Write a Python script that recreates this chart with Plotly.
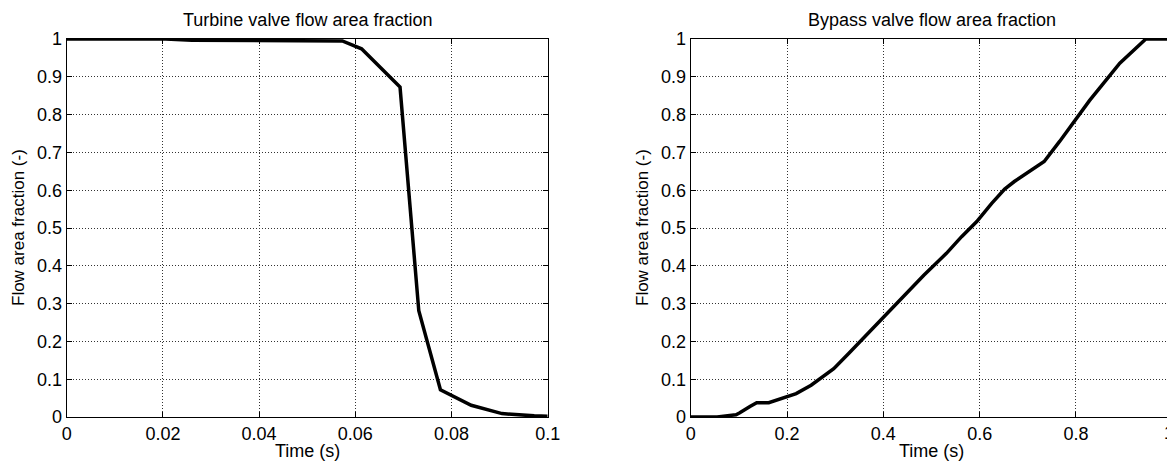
import plotly.graph_objects as go

# Turbine valve flow area fraction
turbine_t = [0.0, 0.0206, 0.026, 0.045, 0.0573, 0.0613, 0.0693, 0.0732, 0.0777, 0.0841, 0.0905, 0.0972, 0.1]
turbine_frac = [1.0, 1.0, 0.997, 0.996, 0.9947, 0.974, 0.873, 0.281, 0.072, 0.031, 0.009, 0.003, 0.002]

# Bypass valve flow area fraction
bypass_t = [0.0, 0.055, 0.094, 0.102, 0.123, 0.137, 0.162, 0.195, 0.219, 0.25, 0.297, 0.328,
            0.375, 0.43, 0.484, 0.531, 0.5625, 0.594, 0.625, 0.652, 0.672, 0.734, 0.766,
            0.828, 0.891, 0.945, 1.0]
bypass_frac = [0.0, 0.0, 0.006, 0.011, 0.028, 0.038, 0.038, 0.051, 0.062, 0.084, 0.128, 0.168,
               0.230, 0.305, 0.375, 0.433, 0.477, 0.517, 0.565, 0.603, 0.623, 0.676, 0.729,
               0.837, 0.936, 1.0, 1.0]

titles = ["Turbine valve flow area fraction", "Bypass valve flow area fraction"]
x_label = "Time (s)"
y_label = "Flow area fraction (-)"
y_ticks = [0, 0.1, 0.2, 0.3, 0.4, 0.5, 0.6, 0.7, 0.8, 0.9, 1]
y_ticktext = ["0", "0.1", "0.2", "0.3", "0.4", "0.5", "0.6", "0.7", "0.8", "0.9", "1"]
x1_ticks = [0, 0.02, 0.04, 0.06, 0.08, 0.1]
x1_ticktext = ["0", "0.02", "0.04", "0.06", "0.08", "0.1"]
x2_ticks = [0, 0.2, 0.4, 0.6, 0.8, 1]
x2_ticktext = ["0", "0.2", "0.4", "0.6", "0.8", "1"]

# The page body has a default 8px margin; lay the figure out in page pixels minus that offset.
OFF = 8
W, H = 1175 - OFF, 466 - OFF
FONT = "Liberation Sans, Arial, sans-serif"
FS = 18


def px_x(p):
    return (p - OFF) / W


def px_y(p):
    return 1 - (p - OFF) / H


dom1 = [px_x(66.7), px_x(547.7)]
dom2 = [px_x(690.7), px_x(1172.3)]
ydom = [px_y(417), px_y(39)]

fig = go.Figure()
fig.add_trace(go.Scatter(x=turbine_t, y=turbine_frac, mode="lines",
                         line=dict(color="black", width=3.5), xaxis="x", yaxis="y",
                         showlegend=False))
fig.add_trace(go.Scatter(x=bypass_t, y=bypass_frac, mode="lines",
                         line=dict(color="black", width=3.5), xaxis="x2", yaxis="y2",
                         showlegend=False))

axis_common = dict(
    showline=True, linecolor="black", linewidth=1, mirror="allticks",
    ticks="inside", ticklen=5, tickcolor="black", tickwidth=1,
    showgrid=True, gridcolor="#333333", gridwidth=1, griddash="1px,2px",
    zeroline=False, tickfont=dict(family=FONT, size=FS, color="black"),
    automargin=False, ticklabeloverflow="allow",
)

# last label of the right x axis sits on the window edge; draw it right-aligned so it stays whole
x2_labels_drawn = x2_ticktext[:-1] + [""]

fig.update_layout(
    width=W, height=H,
    margin=dict(l=0, r=0, t=0, b=0),
    paper_bgcolor="white", plot_bgcolor="white",
    font=dict(family=FONT, size=FS, color="black"),
    xaxis=dict(domain=dom1, range=[0, 0.1], tickvals=x1_ticks, ticktext=x1_ticktext,
               anchor="y", **axis_common),
    yaxis=dict(domain=ydom, range=[0, 1], tickvals=y_ticks, ticktext=y_ticktext,
               anchor="x", **axis_common),
    xaxis2=dict(domain=dom2, range=[0, 1], tickvals=x2_ticks, ticktext=x2_labels_drawn,
                anchor="y2", **axis_common),
    yaxis2=dict(domain=ydom, range=[0, 1], tickvals=y_ticks, ticktext=y_ticktext,
                anchor="x2", **axis_common),
)

annots = []
for dom, t, lx in zip([dom1, dom2], titles, [18, 642]):
    cx = (dom[0] + dom[1]) / 2
    annots.append(dict(text=t, x=cx, y=px_y(20), xref="paper", yref="paper",
                       xanchor="center", yanchor="middle", showarrow=False,
                       font=dict(family=FONT, size=FS, color="black")))
    annots.append(dict(text=x_label, x=cx, y=px_y(451), xref="paper", yref="paper",
                       xanchor="center", yanchor="middle", showarrow=False,
                       font=dict(family=FONT, size=FS, color="black")))
    annots.append(dict(text=y_label, x=px_x(lx), y=(ydom[0] + ydom[1]) / 2,
                       xref="paper", yref="paper", textangle=-90,
                       xanchor="center", yanchor="middle", showarrow=False,
                       font=dict(family=FONT, size=17, color="black")))
annots.append(dict(text=x2_ticktext[-1], x=1, y=px_y(433), xref="paper", yref="paper",
                   xanchor="right", yanchor="middle", showarrow=False, borderpad=0,
                   font=dict(family=FONT, size=FS, color="black")))
fig.update_layout(annotations=annots)

fig.write_html("out.html")
